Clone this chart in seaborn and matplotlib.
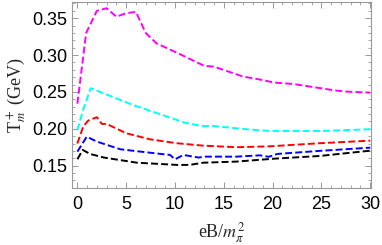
import matplotlib
matplotlib.use("Agg")
import matplotlib.pyplot as plt
import seaborn as sns
import pandas as pd
from matplotlib.ticker import MultipleLocator

# values
mag_x = [0, 0.9, 1.3, 2.0, 3.0, 4.0, 5.0, 6.0, 7.0, 8.1, 10.3, 13.0, 14.0, 17.0, 18.4, 20.2, 22.1, 26.5, 27.6, 30]
mag_y = [0.234, 0.330, 0.341, 0.360, 0.3635, 0.352, 0.3568, 0.3585, 0.330, 0.316, 0.3025, 0.2853,
         0.2843, 0.2707, 0.2676, 0.2626, 0.2608, 0.2518, 0.2504, 0.249]

cyan_x = [0, 0.55, 1.37, 5.7, 9.2, 11.0, 12.7, 13.9, 17.3, 19.7, 25, 30]
cyan_y = [0.198, 0.224, 0.255, 0.2323, 0.2165, 0.2083, 0.2038, 0.2038, 0.1994, 0.197, 0.197, 0.1994]

red_x = [0, 0.6, 1.1, 2.0, 2.5, 3.0, 5.0, 7.4, 10.2, 12.9, 16.3, 19.7, 24.8, 30]
red_y = [0.180, 0.203, 0.211, 0.2157, 0.2066, 0.2066, 0.194, 0.1858, 0.1804, 0.1771, 0.175, 0.1762,
         0.1804, 0.1839]

blue_x = [0, 0.96, 2.0, 4.4, 7.4, 9.5, 10.0, 10.85, 11.5, 12.4, 13.1, 16.3, 18.7, 19.6, 20.5, 24.8, 30]
blue_y = [0.169, 0.1893, 0.1826, 0.1722, 0.1676, 0.1645, 0.1585, 0.1645, 0.1631, 0.161, 0.1622, 0.1622,
          0.164, 0.162, 0.1659, 0.170, 0.1744]

black_x = [0, 0.55, 1.3, 2.7, 6.1, 10.2, 11.5, 12.9, 16.3, 20.2, 24.8, 30]
black_y = [0.1587, 0.1713, 0.1659, 0.161, 0.154, 0.151, 0.151, 0.154, 0.1555, 0.1595, 0.1631, 0.1703]

series = [
    (mag_x, mag_y, '#FF00FF'),
    (cyan_x, cyan_y, '#00FFFF'),
    (red_x, red_y, '#FF0000'),
    (blue_x, blue_y, '#0000FF'),
    (black_x, black_y, '#000000'),
]

sns.set_theme(style="ticks")
plt.rcParams['font.family'] = ['Liberation Sans', 'DejaVu Sans']
plt.rcParams['mathtext.fontset'] = 'stix'

FRAME = '#999999'

fig = plt.figure(figsize=(3.82, 2.45), dpi=100)
ax = fig.add_axes([0.1885, 0.2315, 0.782, 0.762])

for xs, ys, col in series:
    df = pd.DataFrame({'eB': xs, 'T': ys})
    sns.lineplot(data=df, x='eB', y='T', ax=ax, color=col, linewidth=1.4,
                 linestyle=(0, (3.6, 1.6)), sort=False)

ax.set_xlim(-0.55, 30.05)
ax.set_ylim(0.1193, 0.3725)

ax.xaxis.set_major_locator(MultipleLocator(5))
ax.xaxis.set_minor_locator(MultipleLocator(1))
ax.yaxis.set_major_locator(MultipleLocator(0.05))
ax.yaxis.set_minor_locator(MultipleLocator(0.01))
ax.yaxis.set_major_formatter(matplotlib.ticker.FormatStrFormatter('%.2f'))

for sp in ax.spines.values():
    sp.set_color(FRAME)
    sp.set_linewidth(0.8)

ax.tick_params(which='both', direction='in', top=True, right=True, color=FRAME,
               labelsize=13, labelcolor='black')
ax.tick_params(which='major', length=4.5, width=0.7)
ax.tick_params(which='minor', length=2.5, width=0.6)
ax.tick_params(axis='y', which='major', pad=3.5)
ax.tick_params(axis='x', which='major', pad=5.5)

ax.set_xlabel(r'eB/$m_\pi^2$', family='Liberation Serif', fontsize=13, labelpad=5.5)
ax.set_ylabel(r'T$_m^+$ (GeV)', family='Liberation Serif', fontsize=13, labelpad=3)
ax.grid(False)

fig.savefig('out.png', dpi=100)
plt.close(fig)
